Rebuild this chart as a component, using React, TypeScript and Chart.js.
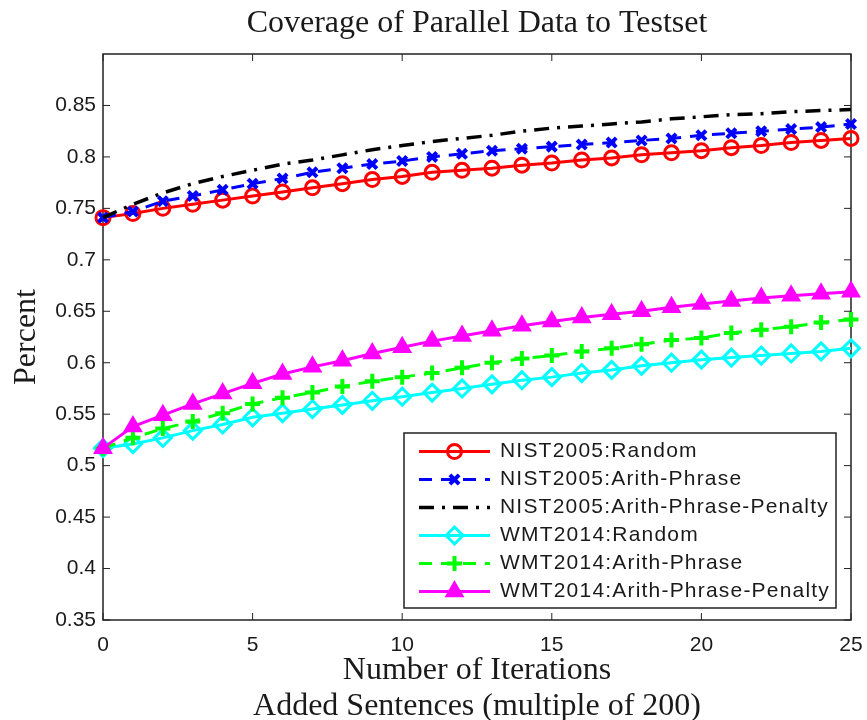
import React, { useEffect, useRef } from 'react';
import { Chart, registerables } from 'chart.js';
import { drawPoint } from 'chart.js/helpers';

Chart.register(...registerables);

// ---- data ----
const iterations = [0, 1, 2, 3, 4, 5, 6, 7, 8, 9, 10, 11, 12, 13, 14, 15, 16, 17, 18, 19, 20, 21, 22, 23, 24, 25];

const nistRandom = [0.741, 0.745, 0.750, 0.754, 0.758, 0.762, 0.766, 0.770, 0.774, 0.778, 0.781, 0.785, 0.787, 0.789, 0.792, 0.794, 0.797, 0.799, 0.802, 0.804, 0.806, 0.809, 0.811, 0.814, 0.816, 0.818];
const nistArithPhrase = [0.741, 0.747, 0.757, 0.762, 0.768, 0.774, 0.779, 0.785, 0.789, 0.793, 0.796, 0.800, 0.803, 0.806, 0.808, 0.810, 0.812, 0.814, 0.816, 0.818, 0.821, 0.823, 0.825, 0.827, 0.829, 0.832];
const nistArithPhrasePenalty = [0.741, 0.754, 0.765, 0.774, 0.781, 0.787, 0.793, 0.797, 0.802, 0.807, 0.811, 0.815, 0.818, 0.821, 0.825, 0.828, 0.830, 0.832, 0.834, 0.837, 0.839, 0.841, 0.842, 0.844, 0.845, 0.846];
const wmtRandom = [0.517, 0.521, 0.527, 0.534, 0.540, 0.547, 0.551, 0.555, 0.559, 0.563, 0.567, 0.571, 0.575, 0.579, 0.583, 0.586, 0.590, 0.593, 0.597, 0.600, 0.603, 0.605, 0.607, 0.609, 0.611, 0.614];
const wmtArithPhrase = [0.517, 0.527, 0.536, 0.543, 0.551, 0.560, 0.566, 0.571, 0.577, 0.582, 0.586, 0.590, 0.595, 0.600, 0.604, 0.607, 0.611, 0.614, 0.618, 0.622, 0.624, 0.629, 0.632, 0.635, 0.639, 0.642];
const wmtArithPhrasePenalty = [0.517, 0.538, 0.549, 0.560, 0.570, 0.580, 0.589, 0.596, 0.602, 0.609, 0.615, 0.621, 0.626, 0.631, 0.636, 0.640, 0.644, 0.647, 0.650, 0.654, 0.657, 0.660, 0.663, 0.665, 0.667, 0.669];

const seriesLabels = [
  'NIST2005:Random',
  'NIST2005:Arith-Phrase',
  'NIST2005:Arith-Phrase-Penalty',
  'WMT2014:Random',
  'WMT2014:Arith-Phrase',
  'WMT2014:Arith-Phrase-Penalty',
];
const seriesValues = [nistRandom, nistArithPhrase, nistArithPhrasePenalty, wmtRandom, wmtArithPhrase, wmtArithPhrasePenalty];

const xTickValues = [0, 5, 10, 15, 20, 25];
const yTickValues = [0.35, 0.4, 0.45, 0.5, 0.55, 0.6, 0.65, 0.7, 0.75, 0.8, 0.85];

const chartTitle = 'Coverage of Parallel Data to Testset';
const xTitle = ['Number of Iterations', 'Added Sentences (multiple of 200)'];
const yTitle = 'Percent';

// ---- styles ----
const seriesStyles = [
  { color: '#ff0000', dash: [], pointStyle: 'circle', radius: 7, pbw: 3, fill: 'rgba(0,0,0,0)' },
  { color: '#0000ff', dash: [13, 9], pointStyle: 'crossRot', radius: 6.5, pbw: 4, fill: 'rgba(0,0,0,0)' },
  { color: '#000000', dash: [15, 8, 3, 8], pointStyle: 'circle', radius: 0, pbw: 0, fill: 'rgba(0,0,0,0)' },
  { color: '#00ffff', dash: [], pointStyle: 'rectRot', radius: 8.5, pbw: 3, fill: 'rgba(0,0,0,0)' },
  { color: '#00ff00', dash: [13, 9], pointStyle: 'cross', radius: 7.5, pbw: 4, fill: 'rgba(0,0,0,0)' },
  { color: '#ff00ff', dash: [], pointStyle: 'triangle', radius: 10, pbw: 1.5, fill: '#ff00ff' },
];

const SANS = 'Liberation Sans';
const SERIF = 'Liberation Serif';
const TEXT = '#1a1a1a';

const matlabPlugin = {
  id: 'matlabAxes',
  beforeDatasetsDraw(chart: any) {
    const { ctx, chartArea } = chart;
    const { left, right, top, bottom } = chartArea;
    const xs = chart.scales.x;
    const ys = chart.scales.y;
    ctx.save();
    ctx.fillStyle = '#ffffff';
    ctx.fillRect(left, top, right - left, bottom - top);
    ctx.strokeStyle = '#222';
    ctx.lineWidth = 1.5;
    ctx.strokeRect(left, top, right - left, bottom - top);
    ctx.lineWidth = 1;
    const tl = 7;
    ctx.beginPath();
    xTickValues.forEach((v) => {
      const px = xs.getPixelForValue(v);
      ctx.moveTo(px, bottom);
      ctx.lineTo(px, bottom - tl);
      ctx.moveTo(px, top);
      ctx.lineTo(px, top + tl);
    });
    yTickValues.forEach((v) => {
      const py = ys.getPixelForValue(v);
      ctx.moveTo(left, py);
      ctx.lineTo(left + tl, py);
      ctx.moveTo(right, py);
      ctx.lineTo(right - tl, py);
    });
    ctx.stroke();
    ctx.restore();
  },
  afterDatasetsDraw(chart: any) {
    const { ctx, chartArea } = chart;
    const boxW = 432;
    const boxH = 175;
    const x0 = chartArea.right - 15 - boxW;
    const y0 = chartArea.bottom - 12 - boxH;
    ctx.save();
    ctx.fillStyle = '#ffffff';
    ctx.fillRect(x0, y0, boxW, boxH);
    ctx.strokeStyle = '#222';
    ctx.lineWidth = 1.5;
    ctx.strokeRect(x0, y0, boxW, boxH);
    chart.data.datasets.forEach((ds: any, i: number) => {
      const y = y0 + 18.5 + i * 28;
      const lx0 = x0 + 15;
      const lx1 = x0 + 86;
      const mx = (lx0 + lx1) / 2;
      ctx.save();
      ctx.setLineDash(ds.borderDash || []);
      ctx.strokeStyle = ds.borderColor;
      ctx.lineWidth = ds.borderWidth;
      ctx.beginPath();
      ctx.moveTo(lx0, y);
      ctx.lineTo(lx1, y);
      ctx.stroke();
      ctx.setLineDash([]);
      if (ds.pointRadius > 0) {
        ctx.fillStyle = ds.pointBackgroundColor;
        ctx.strokeStyle = ds.pointBorderColor;
        ctx.lineWidth = ds.pointBorderWidth;
        drawPoint(ctx, { pointStyle: ds.pointStyle, radius: ds.pointRadius, borderWidth: ds.pointBorderWidth, rotation: 0 } as any, mx, y);
      }
      ctx.restore();
      ctx.save();
      ctx.fillStyle = TEXT;
      ctx.font = `21px "${SANS}"`;
      (ctx as any).letterSpacing = '1.2px';
      ctx.textAlign = 'left';
      ctx.textBaseline = 'middle';
      ctx.fillText(ds.label, x0 + 96, y);
      ctx.restore();
    });
    ctx.restore();
  },
};

export default function App() {
  const canvasRef = useRef<HTMLCanvasElement | null>(null);

  useEffect(() => {
    if (!canvasRef.current) return;
    const datasets = seriesValues.map((vals, i) => {
      const st = seriesStyles[i];
      return {
        label: seriesLabels[i],
        data: iterations.map((x, j) => ({ x, y: vals[j] })),
        borderColor: st.color,
        backgroundColor: st.fill,
        borderWidth: i === 2 ? 3.5 : 3,
        borderDash: st.dash,
        pointStyle: st.pointStyle,
        pointRadius: st.radius,
        pointHoverRadius: st.radius,
        pointBorderWidth: st.pbw,
        pointBorderColor: st.color,
        pointBackgroundColor: st.fill,
        tension: 0,
        fill: false,
        clip: false,
        order: 5 - i,
      };
    });

    const chart = new Chart(canvasRef.current, {
      type: 'line',
      data: { datasets },
      plugins: [matlabPlugin],
      options: {
        animation: false,
        responsive: false,
        maintainAspectRatio: false,
        events: [],
        layout: { autoPadding: false, padding: { left: 0, right: 16, top: 0, bottom: 0 } },
        plugins: {
          legend: { display: false },
          tooltip: { enabled: false },
          title: {
            display: true,
            text: chartTitle,
            fullSize: false,
            color: TEXT,
            font: { family: SERIF, size: 32, weight: 'normal', lineHeight: 1.2 },
            padding: { top: 4, bottom: 11.6 },
          },
        },
        scales: {
          x: {
            type: 'linear',
            min: 0,
            max: 25,
            grid: { display: false, drawTicks: false, tickLength: 0 },
            border: { display: false },
            afterBuildTicks: (scale: any) => {
              scale.ticks = xTickValues.map((v) => ({ value: v }));
            },
            afterFit: (scale: any) => {
              scale.height = 100;
              scale.paddingLeft = 0;
              scale.paddingRight = 0;
            },
            ticks: {
              color: TEXT,
              font: { family: SANS, size: 21 },
              padding: 13,
              maxRotation: 0,
              callback: (v: any) => String(v),
            },
            title: {
              display: true,
              text: xTitle,
              color: TEXT,
              font: { family: SERIF, size: 32, lineHeight: 1.125 },
              padding: { top: 0, bottom: -5 },
            },
          },
          y: {
            type: 'linear',
            min: 0.35,
            max: 0.9,
            grid: { display: false, drawTicks: false, tickLength: 0 },
            border: { display: false },
            afterBuildTicks: (scale: any) => {
              scale.ticks = yTickValues.map((v) => ({ value: v }));
            },
            afterFit: (scale: any) => {
              scale.width = 103;
              scale.paddingTop = 0;
              scale.paddingBottom = 0;
            },
            ticks: {
              color: TEXT,
              font: { family: SANS, size: 21 },
              padding: 7,
              callback: (v: any) => String(Number(Number(v).toFixed(2))),
            },
            title: {
              display: true,
              text: yTitle,
              color: TEXT,
              font: { family: SERIF, size: 32, lineHeight: 1.2 },
              padding: { top: 7, bottom: 0 },
            },
          },
        },
      } as any,
    });
    return () => chart.destroy();
  }, []);

  return (
    <div style={{ position: 'absolute', left: 0, top: 0, width: 867, height: 720, background: '#ffffff' }}>
      <canvas ref={canvasRef} width={867} height={720} style={{ display: 'block' }} />
    </div>
  );
}
